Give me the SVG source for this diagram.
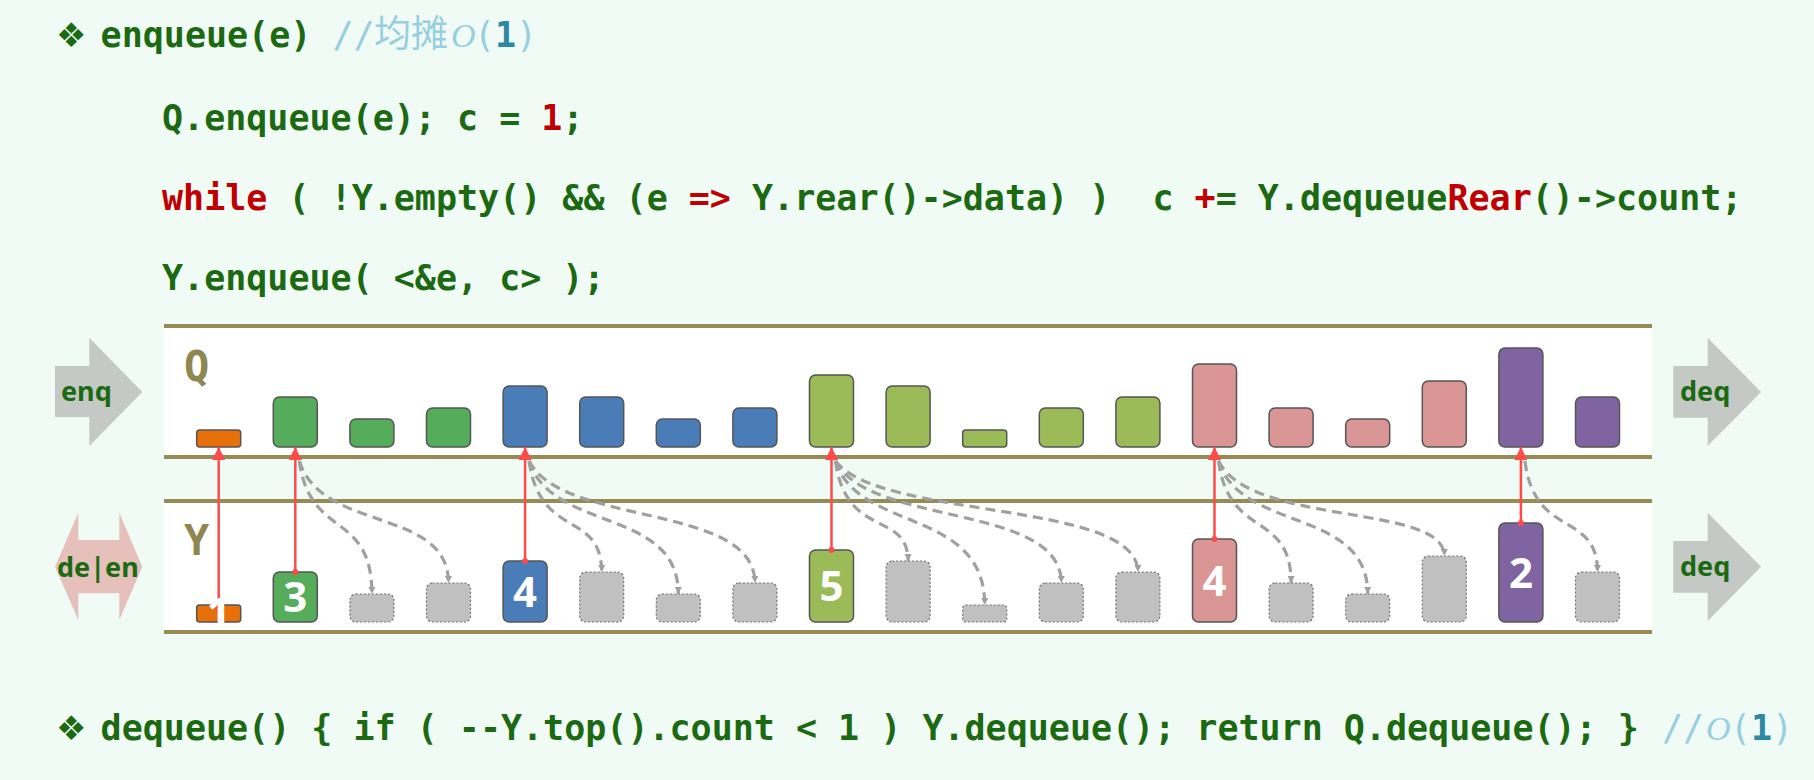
<svg xmlns="http://www.w3.org/2000/svg" width="1814" height="780" viewBox="0 0 1814 780">
<defs>
<style>
.code{font-family:"DejaVu Sans Mono","Liberation Mono",monospace;font-weight:bold;font-size:35px;fill:#1b6a12;white-space:pre}
.red{fill:#c00000}
.cmt{font-family:"DejaVu Sans Mono","Liberation Mono",monospace;font-weight:normal;font-size:35px;fill:#96cfe0;white-space:pre}
.cjk{font-family:"Noto Sans CJK SC","Noto Sans",sans-serif;font-size:37px;fill:#96cfe0}
.bigO{font-family:"Liberation Serif","DejaVu Serif",serif;font-style:italic;font-size:34px;fill:#96cfe0}
.one{font-family:"DejaVu Sans Mono",monospace;font-weight:bold;font-size:35px;fill:#2d88a5}
.dia{font-family:"DejaVu Sans",sans-serif;font-size:34px;fill:#1b6a12}
.lbl{font-family:"Noto Sans","DejaVu Sans",sans-serif;font-weight:bold;font-size:27px;fill:#1b6a12}
.qy{font-family:"DejaVu Sans Mono",monospace;font-weight:bold;font-size:42px;fill:#8f8650}
.band{fill:#ffffff}
.rule{stroke:#978b54;stroke-width:4}
.b{stroke:#555555;stroke-width:1.5}
.or{fill:#e8700a}.gr{fill:#55ac5a}.bl{fill:#4a7db8}.lg{fill:#9bbb59}.pk{fill:#d99694}.pu{fill:#8064a2}
.gy{fill:#c0c0c0;stroke:#707070;stroke-width:1.2;stroke-dasharray:2 2}
.num{font-family:"Noto Sans","DejaVu Sans",sans-serif;font-weight:bold;font-size:42px;fill:#ffffff;text-anchor:middle}
.red-arrow{stroke:#ff4a4a;stroke-width:2.5;fill:none}
.gray-link{stroke:#a0a0a0;stroke-width:3.2;stroke-dasharray:10 6;fill:none}
</style>
<marker id="ah" viewBox="0 0 10 10" refX="10" refY="5" markerWidth="13" markerHeight="13" markerUnits="userSpaceOnUse" orient="auto">
<path d="M0,0 L10,5 L0,10 z" fill="#ff4a4a"/>
</marker>
<marker id="rs" viewBox="0 0 10 10" refX="5" refY="5" markerWidth="6" markerHeight="6" markerUnits="userSpaceOnUse" orient="auto">
<circle cx="5" cy="5" r="5" fill="#ff4a4a"/>
</marker>
<marker id="gh" viewBox="0 0 10 10" refX="10" refY="5" markerWidth="7" markerHeight="7" markerUnits="userSpaceOnUse" orient="auto">
<path d="M0,0 L10,5 L0,10 z" fill="#a0a0a0"/>
</marker>
</defs>
<rect width="1814" height="780" fill="#f1fbf5"/>

<g id="code">
<text class="dia" x="56" y="47">❖</text>
<text class="code" x="100.6" y="47" xml:space="preserve">enqueue(e)</text>
<text class="cmt" x="332.4" y="47">//</text>
<text class="cjk" x="374" y="47">均摊</text>
<text class="bigO" x="451" y="47">O</text>
<text class="cmt" x="474" y="47">(</text><text class="one" x="495" y="47">1</text><text class="cmt" x="516" y="47">)</text>

<text class="code" x="162" y="130" xml:space="preserve">Q.enqueue(e); c = <tspan class="red">1</tspan>;</text>
<text class="code" x="162" y="210" xml:space="preserve"><tspan class="red">while</tspan> ( !Y.empty() &amp;&amp; (e <tspan class="red">=&gt;</tspan> Y.rear()-&gt;data) )  c <tspan class="red">+</tspan>= Y.dequeue<tspan class="red">Rear</tspan>()-&gt;count;</text>
<text class="code" x="162" y="290" xml:space="preserve">Y.enqueue( &lt;&amp;e, c&gt; );</text>

<text class="dia" x="56" y="740">❖</text>
<text class="code" x="100.6" y="740" xml:space="preserve">dequeue() { if ( --Y.top().count &lt; 1 ) Y.dequeue(); return Q.dequeue(); }</text>
<text class="cmt" x="1662" y="740">//</text>
<text class="bigO" x="1706" y="740">O</text>
<text class="cmt" x="1730" y="740">(</text><text class="one" x="1751" y="740">1</text><text class="cmt" x="1772" y="740">)</text>
</g>

<g id="bands">
<rect class="band" x="164" y="326" width="1488" height="131"/>
<rect class="band" x="164" y="501" width="1488" height="131"/>
<line class="rule" x1="164" y1="326" x2="1652" y2="326"/>
<line class="rule" x1="164" y1="457" x2="1652" y2="457"/>
<line class="rule" x1="164" y1="501" x2="1652" y2="501"/>
<line class="rule" x1="164" y1="632" x2="1652" y2="632"/>
<text class="qy" x="184" y="381">Q</text>
<text class="qy" x="184" y="555">Y</text>
</g>

<g id="side-arrows">
<g id="enq"><polygon points="55,366 89.3,366 89.3,337.7 142.3,392 89.3,446 89.3,417.3 55,417.3" fill="#c5c9c6"/><text class="lbl" x="61" y="401">enq</text></g>
<g id="deen"><polygon points="55,566.7 78.3,512.7 78.3,540 119.3,540 119.3,512.7 142.3,566.7 119.3,620 119.3,593.3 78.3,593.3 78.3,620" fill="#e6c0bb"/><text class="lbl" x="57" y="577">de|en</text></g>
<g id="deq1"><polygon points="1673.3,366 1707.7,366 1707.7,337.7 1761,392 1707.7,446 1707.7,417.7 1673.3,417.7" fill="#c5c9c6"/><text class="lbl" x="1680" y="401">deq</text></g>
<g id="deq2"><polygon points="1673.3,541 1707.7,541 1707.7,512.7 1761,566.7 1707.7,621 1707.7,592.7 1673.3,592.7" fill="#c5c9c6"/><text class="lbl" x="1680" y="576">deq</text></g>
</g>

<g id="Q">
<g id="q0"><rect class="b or" x="196.7" y="430" width="44" height="17" rx="3"/></g>
<g id="q1"><rect class="b gr" x="273.3" y="397" width="44" height="50" rx="6"/></g>
<g id="q2"><rect class="b gr" x="349.9" y="419" width="44" height="28" rx="6"/></g>
<g id="q3"><rect class="b gr" x="426.5" y="408" width="44" height="39" rx="6"/></g>
<g id="q4"><rect class="b bl" x="503.1" y="386" width="44" height="61" rx="6"/></g>
<g id="q5"><rect class="b bl" x="579.7" y="397" width="44" height="50" rx="6"/></g>
<g id="q6"><rect class="b bl" x="656.3" y="419" width="44" height="28" rx="6"/></g>
<g id="q7"><rect class="b bl" x="732.9" y="408" width="44" height="39" rx="6"/></g>
<g id="q8"><rect class="b lg" x="809.5" y="375" width="44" height="72" rx="6"/></g>
<g id="q9"><rect class="b lg" x="886.1" y="386" width="44" height="61" rx="6"/></g>
<g id="q10"><rect class="b lg" x="962.7" y="430" width="44" height="17" rx="3"/></g>
<g id="q11"><rect class="b lg" x="1039.3" y="408" width="44" height="39" rx="6"/></g>
<g id="q12"><rect class="b lg" x="1115.9" y="397" width="44" height="50" rx="6"/></g>
<g id="q13"><rect class="b pk" x="1192.5" y="364" width="44" height="83" rx="6"/></g>
<g id="q14"><rect class="b pk" x="1269.1" y="408" width="44" height="39" rx="6"/></g>
<g id="q15"><rect class="b pk" x="1345.7" y="419" width="44" height="28" rx="6"/></g>
<g id="q16"><rect class="b pk" x="1422.3" y="381" width="44" height="66" rx="6"/></g>
<g id="q17"><rect class="b pu" x="1498.9" y="348" width="44" height="99" rx="6"/></g>
<g id="q18"><rect class="b pu" x="1575.5" y="397" width="44" height="50" rx="6"/></g>
</g>

<g id="Y">
<g id="y0"><rect class="b or" x="196.7" y="605" width="44" height="17" rx="3"/></g>
<g id="y1"><rect class="b gr" x="273.3" y="572" width="44" height="50" rx="6"/></g>
<g id="y2"><rect class="gy" x="349.9" y="594" width="44" height="28" rx="6"/></g>
<g id="y3"><rect class="gy" x="426.5" y="583" width="44" height="39" rx="6"/></g>
<g id="y4"><rect class="b bl" x="503.1" y="561" width="44" height="61" rx="6"/></g>
<g id="y5"><rect class="gy" x="579.7" y="572" width="44" height="50" rx="6"/></g>
<g id="y6"><rect class="gy" x="656.3" y="594" width="44" height="28" rx="6"/></g>
<g id="y7"><rect class="gy" x="732.9" y="583" width="44" height="39" rx="6"/></g>
<g id="y8"><rect class="b lg" x="809.5" y="550" width="44" height="72" rx="6"/></g>
<g id="y9"><rect class="gy" x="886.1" y="561" width="44" height="61" rx="6"/></g>
<g id="y10"><rect class="gy" x="962.7" y="605" width="44" height="17" rx="3"/></g>
<g id="y11"><rect class="gy" x="1039.3" y="583" width="44" height="39" rx="6"/></g>
<g id="y12"><rect class="gy" x="1115.9" y="572" width="44" height="50" rx="6"/></g>
<g id="y13"><rect class="b pk" x="1192.5" y="539" width="44" height="83" rx="6"/></g>
<g id="y14"><rect class="gy" x="1269.1" y="583" width="44" height="39" rx="6"/></g>
<g id="y15"><rect class="gy" x="1345.7" y="594" width="44" height="28" rx="6"/></g>
<g id="y16"><rect class="gy" x="1422.3" y="556" width="44" height="66" rx="6"/></g>
<g id="y17"><rect class="b pu" x="1498.9" y="523" width="44" height="99" rx="6"/></g>
<g id="y18"><rect class="gy" x="1575.5" y="572" width="44" height="50" rx="6"/></g>
</g>

<g id="connectors">
<path class="gray-link" marker-end="url(#gh)" d="M299.3,461 C310,540 371.9,510 371.9,594"/>
<path class="gray-link" marker-end="url(#gh)" d="M299.3,461 C322,533 448.5,507 448.5,583"/>
<path class="gray-link" marker-end="url(#gh)" d="M529.1,461 C540,540 601.7,510 601.7,572"/>
<path class="gray-link" marker-end="url(#gh)" d="M529.1,461 C552,533 678.3,507 678.3,594"/>
<path class="gray-link" marker-end="url(#gh)" d="M529.1,461 C563,527 754.9,503 754.9,583"/>
<path class="gray-link" marker-end="url(#gh)" d="M835.5,461 C846,540 908.1,510 908.1,561"/>
<path class="gray-link" marker-end="url(#gh)" d="M835.5,461 C858,533 984.7,507 984.7,605"/>
<path class="gray-link" marker-end="url(#gh)" d="M835.5,461 C869,527 1061.3,503 1061.3,583"/>
<path class="gray-link" marker-end="url(#gh)" d="M835.5,461 C880,520 1137.9,500 1137.9,572"/>
<path class="gray-link" marker-end="url(#gh)" d="M1218.5,461 C1229,540 1291.1,510 1291.1,583"/>
<path class="gray-link" marker-end="url(#gh)" d="M1218.5,461 C1241,533 1367.7,507 1367.7,594"/>
<path class="gray-link" marker-end="url(#gh)" d="M1218.5,461 C1252,527 1444.3,503 1444.3,556"/>
<path class="gray-link" marker-end="url(#gh)" d="M1524.9,461 C1535,540 1597.5,510 1597.5,572"/>
<line class="red-arrow" marker-start="url(#rs)" marker-end="url(#ah)" x1="218.7" y1="610" x2="218.7" y2="447"/>
<line class="red-arrow" marker-start="url(#rs)" marker-end="url(#ah)" x1="295.3" y1="572" x2="295.3" y2="447"/>
<line class="red-arrow" marker-start="url(#rs)" marker-end="url(#ah)" x1="525.1" y1="561" x2="525.1" y2="447"/>
<line class="red-arrow" marker-start="url(#rs)" marker-end="url(#ah)" x1="831.5" y1="550" x2="831.5" y2="447"/>
<line class="red-arrow" marker-start="url(#rs)" marker-end="url(#ah)" x1="1214.5" y1="539" x2="1214.5" y2="447"/>
<line class="red-arrow" marker-start="url(#rs)" marker-end="url(#ah)" x1="1520.9" y1="523" x2="1520.9" y2="447"/>
</g>

<g id="counts">
<text class="num" x="218.7" y="628">1</text>
<text class="num" x="295.3" y="612">3</text>
<text class="num" x="525.1" y="607">4</text>
<text class="num" x="831.5" y="601">5</text>
<text class="num" x="1214.5" y="596">4</text>
<text class="num" x="1520.9" y="588">2</text>
</g>
</svg>
